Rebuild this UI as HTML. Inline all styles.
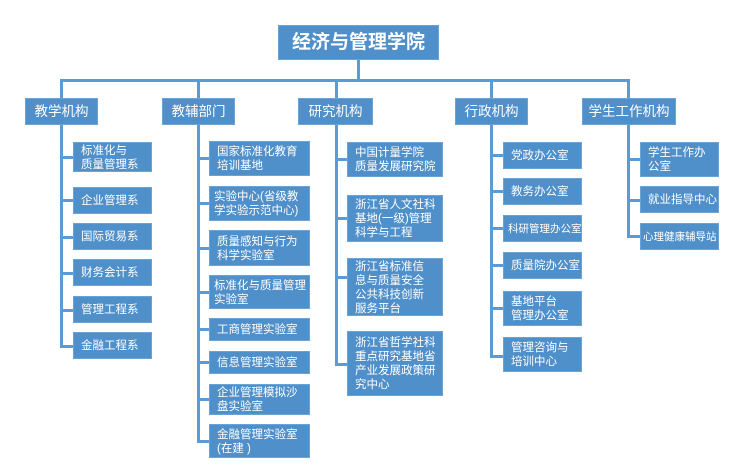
<!DOCTYPE html><html><head><meta charset="utf-8"><style>
body{margin:0;width:730px;height:470px;background:#fff;position:relative;overflow:hidden;font-family:"Liberation Sans","Noto Sans CJK SC",sans-serif}
.b{position:absolute;background:#4f8fca;color:#fff;font-size:11.5px;line-height:14px;box-sizing:border-box;padding:1px 0 0 7px;display:flex;align-items:center;border:1px solid #6aa3d6;white-space:nowrap;overflow:hidden}
.h{justify-content:center;padding:0;font-size:13.5px}
.l{position:absolute;background:#5b9bd5}
.n{padding-left:4px}
</style></head><body>
<div class="b h" style="left:278px;top:25px;width:161px;height:35px;font-size:19px;font-weight:bold">经济与管理学院</div>
<div class="l" style="left:357px;top:60px;width:3px;height:21px"></div>
<div class="l" style="left:60px;top:79px;width:570px;height:3px"></div>
<div class="l" style="left:60px;top:80px;width:3px;height:18px"></div>
<div class="l" style="left:197px;top:80px;width:3px;height:18px"></div>
<div class="l" style="left:335px;top:80px;width:3px;height:18px"></div>
<div class="l" style="left:490px;top:80px;width:3px;height:18px"></div>
<div class="l" style="left:627px;top:80px;width:3px;height:18px"></div>
<div class="b h" style="left:25px;top:98px;width:73px;height:27px">教学机构</div>
<div class="b h" style="left:162px;top:98px;width:73px;height:27px">教辅部门</div>
<div class="b h" style="left:298px;top:98px;width:75px;height:27px">研究机构</div>
<div class="b h" style="left:455px;top:98px;width:73px;height:27px">行政机构</div>
<div class="b h" style="left:582px;top:98px;width:94px;height:27px">学生工作机构</div>
<!-- col1 -->
<div class="l" style="left:60px;top:125px;width:3px;height:223px"></div>
<div class="l" style="left:60px;top:156px;width:14px;height:3px"></div>
<div class="l" style="left:60px;top:199px;width:14px;height:3px"></div>
<div class="l" style="left:60px;top:236px;width:14px;height:3px"></div>
<div class="l" style="left:60px;top:272px;width:14px;height:3px"></div>
<div class="l" style="left:60px;top:309px;width:14px;height:3px"></div>
<div class="l" style="left:60px;top:345px;width:14px;height:3px"></div>
<div class="b" style="left:73px;top:142px;width:79px;height:30px">标准化与<br>质量管理系</div>
<div class="b" style="left:73px;top:187px;width:79px;height:27px">企业管理系</div>
<div class="b" style="left:73px;top:223px;width:79px;height:27px">国际贸易系</div>
<div class="b" style="left:73px;top:259px;width:79px;height:27px">财务会计系</div>
<div class="b" style="left:73px;top:296px;width:79px;height:27px">管理工程系</div>
<div class="b" style="left:73px;top:332px;width:79px;height:27px">金融工程系</div>
<!-- col2 -->
<div class="l" style="left:197px;top:125px;width:3px;height:318px"></div>
<div class="l" style="left:197px;top:157px;width:13px;height:3px"></div>
<div class="l" style="left:197px;top:202px;width:13px;height:3px"></div>
<div class="l" style="left:197px;top:247px;width:13px;height:3px"></div>
<div class="l" style="left:197px;top:291px;width:13px;height:3px"></div>
<div class="l" style="left:197px;top:328px;width:13px;height:3px"></div>
<div class="l" style="left:197px;top:361px;width:13px;height:3px"></div>
<div class="l" style="left:197px;top:398px;width:13px;height:3px"></div>
<div class="l" style="left:197px;top:440px;width:13px;height:3px"></div>
<div class="b" style="left:209px;top:141px;width:101px;height:35px">国家标准化教育<br>培训基地</div>
<div class="b n" style="left:209px;top:186px;width:101px;height:35px">实验中心(省级教<br>学实验示范中心)</div>
<div class="b" style="left:209px;top:230px;width:101px;height:36px">质量感知与行为<br>科学实验室</div>
<div class="b n" style="left:209px;top:275px;width:101px;height:34px">标准化与质量管理<br>实验室</div>
<div class="b" style="left:209px;top:318px;width:101px;height:23px">工商管理实验室</div>
<div class="b" style="left:209px;top:351px;width:101px;height:23px">信息管理实验室</div>
<div class="b" style="left:209px;top:384px;width:101px;height:31px">企业管理模拟沙<br>盘实验室</div>
<div class="b" style="left:209px;top:424px;width:101px;height:34px">金融管理实验室<br>(在建 )</div>
<!-- col3 -->
<div class="l" style="left:335px;top:125px;width:3px;height:241px"></div>
<div class="l" style="left:335px;top:158px;width:13px;height:3px"></div>
<div class="l" style="left:335px;top:217px;width:13px;height:3px"></div>
<div class="l" style="left:335px;top:276px;width:13px;height:3px"></div>
<div class="l" style="left:335px;top:363px;width:13px;height:3px"></div>
<div class="b" style="left:347px;top:142px;width:96px;height:35px">中国计量学院<br>质量发展研究院</div>
<div class="b" style="left:347px;top:195px;width:96px;height:47px">浙江省人文社科<br>基地(一级)管理<br>科学与工程</div>
<div class="b" style="left:347px;top:258px;width:96px;height:58px">浙江省标准信<br>息与质量安全<br>公共科技创新<br>服务平台</div>
<div class="b" style="left:347px;top:331px;width:96px;height:65px">浙江省哲学社科<br>重点研究基地省<br>产业发展政策研<br>究中心</div>
<!-- col4 -->
<div class="l" style="left:490px;top:125px;width:3px;height:233px"></div>
<div class="l" style="left:490px;top:154px;width:14px;height:3px"></div>
<div class="l" style="left:490px;top:190px;width:14px;height:3px"></div>
<div class="l" style="left:490px;top:227px;width:14px;height:3px"></div>
<div class="l" style="left:490px;top:264px;width:14px;height:3px"></div>
<div class="l" style="left:490px;top:307px;width:14px;height:3px"></div>
<div class="l" style="left:490px;top:355px;width:14px;height:3px"></div>
<div class="b" style="left:503px;top:142px;width:79px;height:27px">党政办公室</div>
<div class="b" style="left:503px;top:178px;width:79px;height:27px">教务办公室</div>
<div class="b n" style="left:503px;top:215px;width:79px;height:27px;font-size:10.5px">科研管理办公室</div>
<div class="b" style="left:503px;top:252px;width:79px;height:27px">质量院办公室</div>
<div class="b" style="left:503px;top:291px;width:79px;height:35px">基地平台<br>管理办公室</div>
<div class="b" style="left:503px;top:337px;width:79px;height:35px">管理咨询与<br>培训中心</div>
<!-- col5 -->
<div class="l" style="left:627px;top:125px;width:3px;height:113px"></div>
<div class="l" style="left:627px;top:158px;width:14px;height:3px"></div>
<div class="l" style="left:627px;top:199px;width:14px;height:3px"></div>
<div class="l" style="left:627px;top:235px;width:14px;height:3px"></div>
<div class="b" style="left:640px;top:142px;width:79px;height:35px">学生工作办<br>公室</div>
<div class="b" style="left:640px;top:186px;width:79px;height:27px">就业指导中心</div>
<div class="b" style="left:640px;top:223px;width:79px;height:27px;padding-left:2px;font-size:10.5px">心理健康辅导站</div>
</body></html>
